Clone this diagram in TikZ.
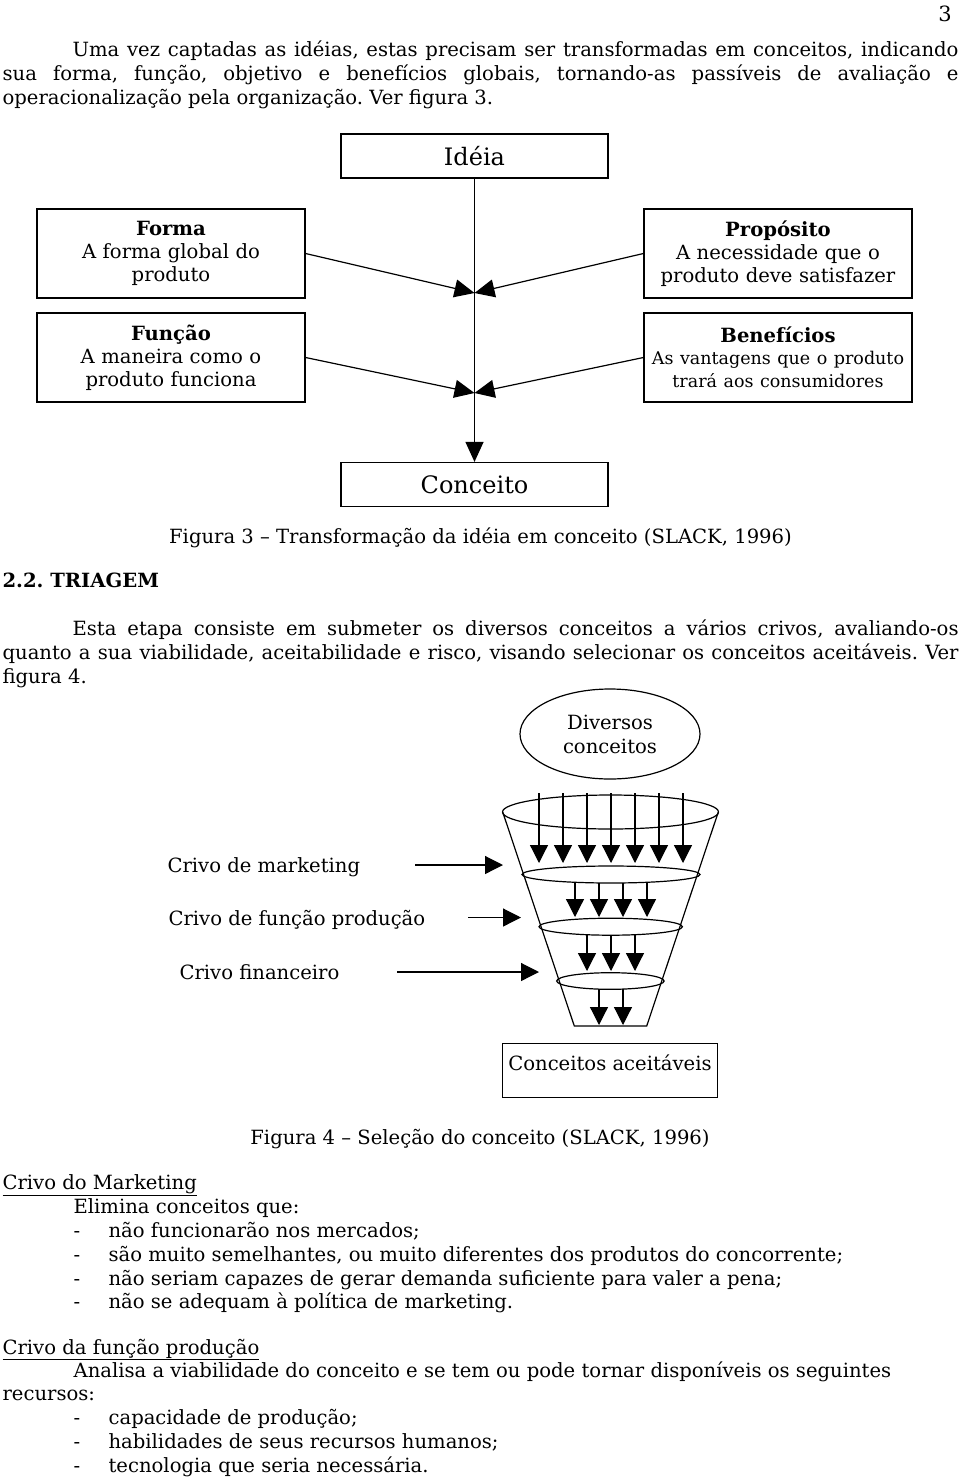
\documentclass[tikz,border=0pt]{standalone}
\usepackage{fontspec}
\setmainfont{DejaVu Serif}
\usetikzlibrary{positioning,shapes.geometric,arrows.meta}

\newcommand{\bodysize}{\fontsize{19.6}{24}\selectfont}
\newcommand{\boxsize}{\fontsize{19.6}{23}\selectfont}
\newcommand{\smallbox}{\fontsize{17.5}{22}\selectfont}

\begin{document}
\frenchspacing
\begin{tikzpicture}
[x=1pt, y=-1pt, line width=1.2pt,
% box style for the parts of the concept
box/.style={rectangle, draw, inner sep=0pt, text width=264pt, align=center, minimum width=268pt, minimum height=89pt, font=\boxsize},
% big box for the idea and the concept
bigbox/.style={rectangle, draw, inner sep=0pt, minimum width=267pt, minimum height=44pt, font=\fontsize{24}{28}\selectfont},
% arrows of the two figures
arr/.style={-{Triangle[length=20pt,width=18pt]}},
sarr/.style={-{Triangle[length=18pt,width=18pt]}},
% plain text lines of the page
txt/.style={anchor=base west, inner sep=0pt, font=\bodysize},
par/.style={anchor=base west, inner sep=0pt, text width=956pt, align=justify, font=\bodysize}
]
\useasboundingbox (0,0) rectangle (960,1478);

% Page text
\node[anchor=base, inner sep=0pt, font=\fontsize{21}{24}\selectfont] (pagenum) at (945,21) {3};
\node[par] (intro) at (2,56) {\noindent\hspace*{70pt}Uma vez captadas as idéias, estas precisam ser transformadas em conceitos, indicando\linebreak sua forma, função, objetivo e benefícios globais, tornando-as passíveis de avaliação e\linebreak operacionalização pela organização. Ver figura 3.};

% Figure 3
\node[bigbox] (idea) at (474.5,156) {Idéia};
\node[box] (forma) at (171,253.5) {\textbf{Forma}\\A forma global do\\produto};
\node[box] (funcao) at (171,357.5) {\textbf{Função}\\A maneira como o\\produto funciona};
\node[box] (proposito) at (778,253.5) {\textbf{Propósito}\\A necessidade que o\\produto deve satisfazer};
\node[box] (beneficios) at (778,357.5) {\textbf{Benefícios}\\\smallbox As vantagens que o produto\\trará aos consumidores};
\node[bigbox] (conceito) at (474.5,484.5) {Conceito};
\coordinate (j1) at (474.5,293);
\coordinate (j2) at (474.5,393);
\draw[arr] (idea.south) -- (conceito.north);
\draw[arr] (forma.east) -- (j1);
\draw[arr] (proposito.west) -- (j1);
\draw[arr] (funcao.east) -- (j2);
\draw[arr] (beneficios.west) -- (j2);
\node[txt, anchor=base] (cap3) at (480.5,543) {Figura 3 – Transformação da idéia em conceito (SLACK, 1996)};

\node[txt, font=\bodysize\bfseries] (triagem) at (2,587) {2.2. TRIAGEM};
\node[par] (etapa) at (2,635) {\noindent\hspace*{70pt}Esta etapa consiste em submeter os diversos conceitos a vários crivos, avaliando-os\linebreak quanto a sua viabilidade, aceitabilidade e risco, visando selecionar os conceitos aceitáveis. Ver\linebreak figura 4.};

% Figure 4: the funnel
\node[ellipse, draw, inner sep=0pt, minimum width=180pt, minimum height=90pt, align=center, font=\bodysize] (diversos) at (610,734) {Diversos\\conceitos};
\draw (610.5,812) ellipse [x radius=108pt, y radius=17pt];
\draw (611,874.5) ellipse [x radius=89pt, y radius=8.5pt];
\draw (610.7,926.7) ellipse [x radius=71.7pt, y radius=8.5pt];
\draw (610.4,981) ellipse [x radius=53.7pt, y radius=8.3pt];
\draw (502.7,812) -- (574.3,1026) -- (646.7,1026) -- (718.3,812);
\foreach \i in {0,...,6}
  \draw[sarr] (539+24*\i,793) -- (539+24*\i,863);
\foreach \xx in {575,599,623,647}
  \draw[sarr] (\xx,883) -- (\xx,917);
\foreach \xx in {587,611,635}
  \draw[sarr] (\xx,935) -- (\xx,971);
\foreach \xx in {599,623}
  \draw[sarr] (\xx,989) -- (\xx,1025);

% Sieves
\node[txt] (mk) at (167,872) {Crivo de marketing};
\node[txt] (fp) at (168,925) {Crivo de função produção};
\node[txt] (fin) at (179,979) {Crivo financeiro};
\coordinate (mkA) at (415,865);   \coordinate (mkB) at (503,865);
\coordinate (fpA) at (468,917.5); \coordinate (fpB) at (521,917.5);
\coordinate (finA) at (397,972);  \coordinate (finB) at (539,972);
\draw[sarr] (mkA) -- (mkB);
\draw[sarr] (fpA) -- (fpB);
\draw[sarr] (finA) -- (finB);

\node[rectangle, draw, inner sep=4pt, minimum width=214.6pt, text height=22.7pt, text depth=23.3pt, font=\bodysize] (aceitos) at (610,1070.3) {Conceitos aceitáveis};
\node[txt, anchor=base] (cap4) at (480,1144) {Figura 4 – Seleção do conceito (SLACK, 1996)};

% Sieve descriptions
\node[txt] (crmk) at (2,1189) {\underline{Crivo do Marketing}};
\node[txt] (elimina) at (73,1213) {Elimina conceitos que:};
\foreach \y/\t in {1237/{não funcionarão nos mercados;}, 1261/{são muito semelhantes, ou muito diferentes dos produtos do concorrente;}, 1285/{não seriam capazes de gerar demanda suficiente para valer a pena;}, 1308/{não se adequam à política de marketing.}}
  {\node[txt] at (73,\y) {-}; \node[txt] at (108,\y) {\t};}
\node[txt] (crfp) at (2,1354) {\underline{Crivo da função produção}};
\node[txt] (analisa) at (73,1377) {Analisa a viabilidade do conceito e se tem ou pode tornar disponíveis os seguintes};
\node[txt] (recursos) at (2,1400) {recursos:};
\foreach \y/\t in {1424/{capacidade de produção;}, 1448/{habilidades de seus recursos humanos;}, 1472/{tecnologia que seria necessária.}}
  {\node[txt] at (73,\y) {-}; \node[txt] at (108,\y) {\t};}
\end{tikzpicture}
\end{document}
